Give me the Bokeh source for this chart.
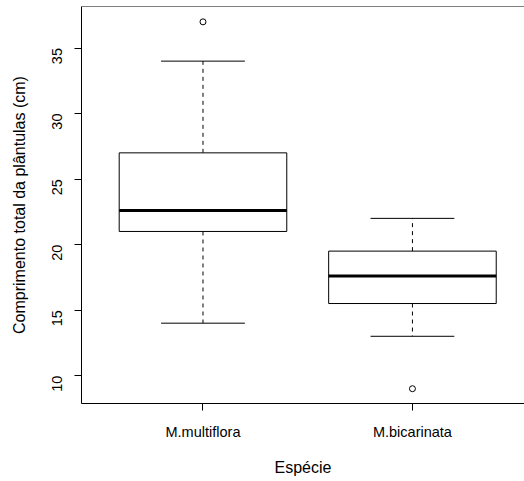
import math
from bokeh.plotting import figure
from bokeh.models import Range1d, Span, FixedTicker
from bokeh.embed import file_html
from bokeh.resources import INLINE

# Data
species = ["M.multiflora", "M.bicarinata"]
positions = [1, 2]
lower_whisker = [14.0, 13.0]
q1 = [21.0, 15.5]
median = [22.6, 17.6]
q3 = [27.0, 19.5]
upper_whisker = [34.0, 22.0]
outlier_x = [1, 2]
outlier_y = [37.0, 9.0]
y_ticks = [10, 15, 20, 25, 30, 35]

BOX_HALF = 0.4
CAP_HALF = 0.2
FONT = "Liberation Sans"

p = figure(width=524, height=481, output_backend="svg", toolbar_location=None,
           x_range=Range1d(0.42, 2.535), y_range=Range1d(7.87, 38.17),
           min_border_left=81, min_border_right=0, min_border_top=6, min_border_bottom=78)
p.grid.visible = False
p.outline_line_color = None
p.background_fill_color = "white"
p.border_fill_color = "white"

left = [x - BOX_HALF for x in positions]
right = [x + BOX_HALF for x in positions]
cap_l = [x - CAP_HALF for x in positions]
cap_r = [x + CAP_HALF for x in positions]

# whiskers (dashed)
p.segment(x0=positions, y0=q3, x1=positions, y1=upper_whisker, line_color="black",
          line_width=1, line_dash="4 4")
p.segment(x0=positions, y0=q1, x1=positions, y1=lower_whisker, line_color="black",
          line_width=1, line_dash="4 4")
# caps
p.segment(x0=cap_l, y0=upper_whisker, x1=cap_r, y1=upper_whisker, line_color="black", line_width=1)
p.segment(x0=cap_l, y0=lower_whisker, x1=cap_r, y1=lower_whisker, line_color="black", line_width=1)
# boxes
p.quad(left=left, right=right, bottom=q1, top=q3, fill_color="white", line_color="black", line_width=1)
# medians
p.segment(x0=left, y0=median, x1=right, y1=median, line_color="black", line_width=3)
# outliers
p.scatter(x=outlier_x, y=outlier_y, marker="circle", size=6, fill_color=None,
          line_color="black", line_width=1)

# frame top
p.add_layout(Span(location=p.y_range.end, dimension="width", line_color="black", line_width=1))

xa = p.xaxis[0]
xa.ticker = FixedTicker(ticks=positions)
xa.major_label_overrides = {pos: name for pos, name in zip(positions, species)}
xa.axis_label = "Espécie"
ya = p.yaxis[0]
ya.ticker = FixedTicker(ticks=y_ticks)
ya.axis_label = "Comprimento total da plântulas (cm)"
ya.major_label_orientation = math.pi / 2

for ax in (xa, ya):
    ax.axis_line_color = "black"
    ax.major_tick_line_color = "black"
    ax.minor_tick_line_color = None
    ax.major_tick_in = 0
    ax.major_tick_out = 7
    ax.major_label_text_font = FONT
    ax.major_label_text_font_size = "14.5px"
    ax.major_label_text_color = "black"
    ax.axis_label_text_font = FONT
    ax.axis_label_text_font_size = "16px"
    ax.axis_label_text_font_style = "normal"
    ax.axis_label_text_color = "black"

xa.major_label_standoff = 13
xa.axis_label_standoff = 16
ya.major_label_standoff = 17
ya.axis_label_standoff = 17

open("out.html", "w").write(file_html(p, INLINE))
